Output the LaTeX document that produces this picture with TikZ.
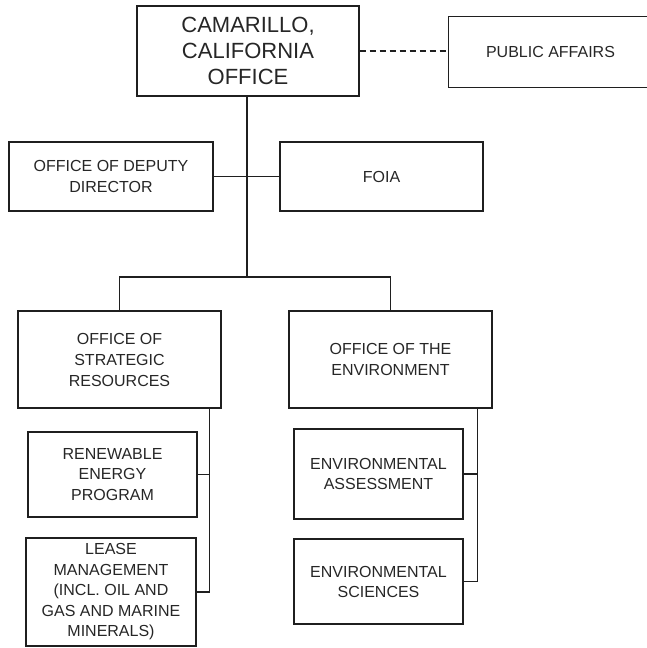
\documentclass[tikz,border=0pt]{standalone}
\usepackage{fontspec}
\setmainfont{Liberation Sans}
\begin{document}
\begin{tikzpicture}[x=1pt,y=-1pt,
  link/.style={draw=black!88, line width=1.5pt},
  unit/.style={draw=black!88, line width=1.4pt, inner sep=0pt, align=center,
    text=black!85, font=\fontsize{16}{21}\selectfont},
  big/.style={unit, font=\fontsize{22}{26}\selectfont}]
\useasboundingbox (0,0) rectangle (646,648);

% head office and its staff units
\node[big, minimum width=222pt, minimum height=90pt] (top) at (248,51)
  {CAMARILLO,\\CALIFORNIA\\OFFICE};
% public affairs runs off the right edge, so only three sides are drawn
\node[unit, draw=none, minimum width=203pt, minimum height=70pt] (pa) at (550.5,52)
  {PUBLIC AFFAIRS};
\draw[link, line width=1.4pt] ([xshift=20pt]pa.north east) -- (pa.north west)
  -- (pa.south west) -- ([xshift=20pt]pa.south east);
\node[unit, minimum width=204pt, minimum height=69pt] (odd) at (111,176.5)
  {OFFICE OF DEPUTY\\DIRECTOR};
\node[unit, minimum width=203pt, minimum height=69pt] (foia) at (381.5,176.5)
  {FOIA};

% the two offices
\node[unit, minimum width=203pt, minimum height=97pt] (osr) at (119.5,359.5)
  {OFFICE OF\\STRATEGIC\\RESOURCES};
\node[unit, minimum width=203pt, minimum height=97pt] (oe) at (390.5,359.5)
  {OFFICE OF THE\\ENVIRONMENT};

% programs under each office
\node[unit, minimum width=169pt, minimum height=85pt, font=\fontsize{16}{20.5}\selectfont] (rep) at (112.5,474.5)
  {RENEWABLE\\ENERGY\\PROGRAM};
\node[unit, minimum width=170pt, minimum height=108pt, font=\fontsize{16}{20.5}\selectfont] (lm) at (111,592)
  {LEASE\\MANAGEMENT\\(INCL. OIL AND\\GAS AND MARINE\\MINERALS)};
\node[unit, minimum width=169pt, minimum height=90pt, font=\fontsize{16}{20}\selectfont] (ea) at (378.5,474)
  {ENVIRONMENTAL\\ASSESSMENT};
\node[unit, minimum width=169pt, minimum height=85pt, font=\fontsize{16}{20}\selectfont] (es) at (378.5,581.5)
  {ENVIRONMENTAL\\SCIENCES};

% connectors
\coordinate (bus) at (247,277);
\coordinate (osrdrop) at ([xshift=-12pt]osr.south east);
\coordinate (oedrop) at ([xshift=-15pt]oe.south east);

\draw[link, dash pattern=on 6pt off 4pt, line width=1.3pt] (top.east) -- (top.east -| pa.west);
\draw[link] (top.south -| bus) -- (bus);
\draw[link] (odd.east) -- (foia.west);
\draw[link] (osr.north) |- (bus) -| (oe.north);
\draw[link] (osrdrop) |- (lm.east);
\draw[link] (rep.east) -- (rep.east -| osrdrop);
\draw[link] (oedrop) |- (es.east);
\draw[link] (ea.east) -- (ea.east -| oedrop);
\end{tikzpicture}
\end{document}
